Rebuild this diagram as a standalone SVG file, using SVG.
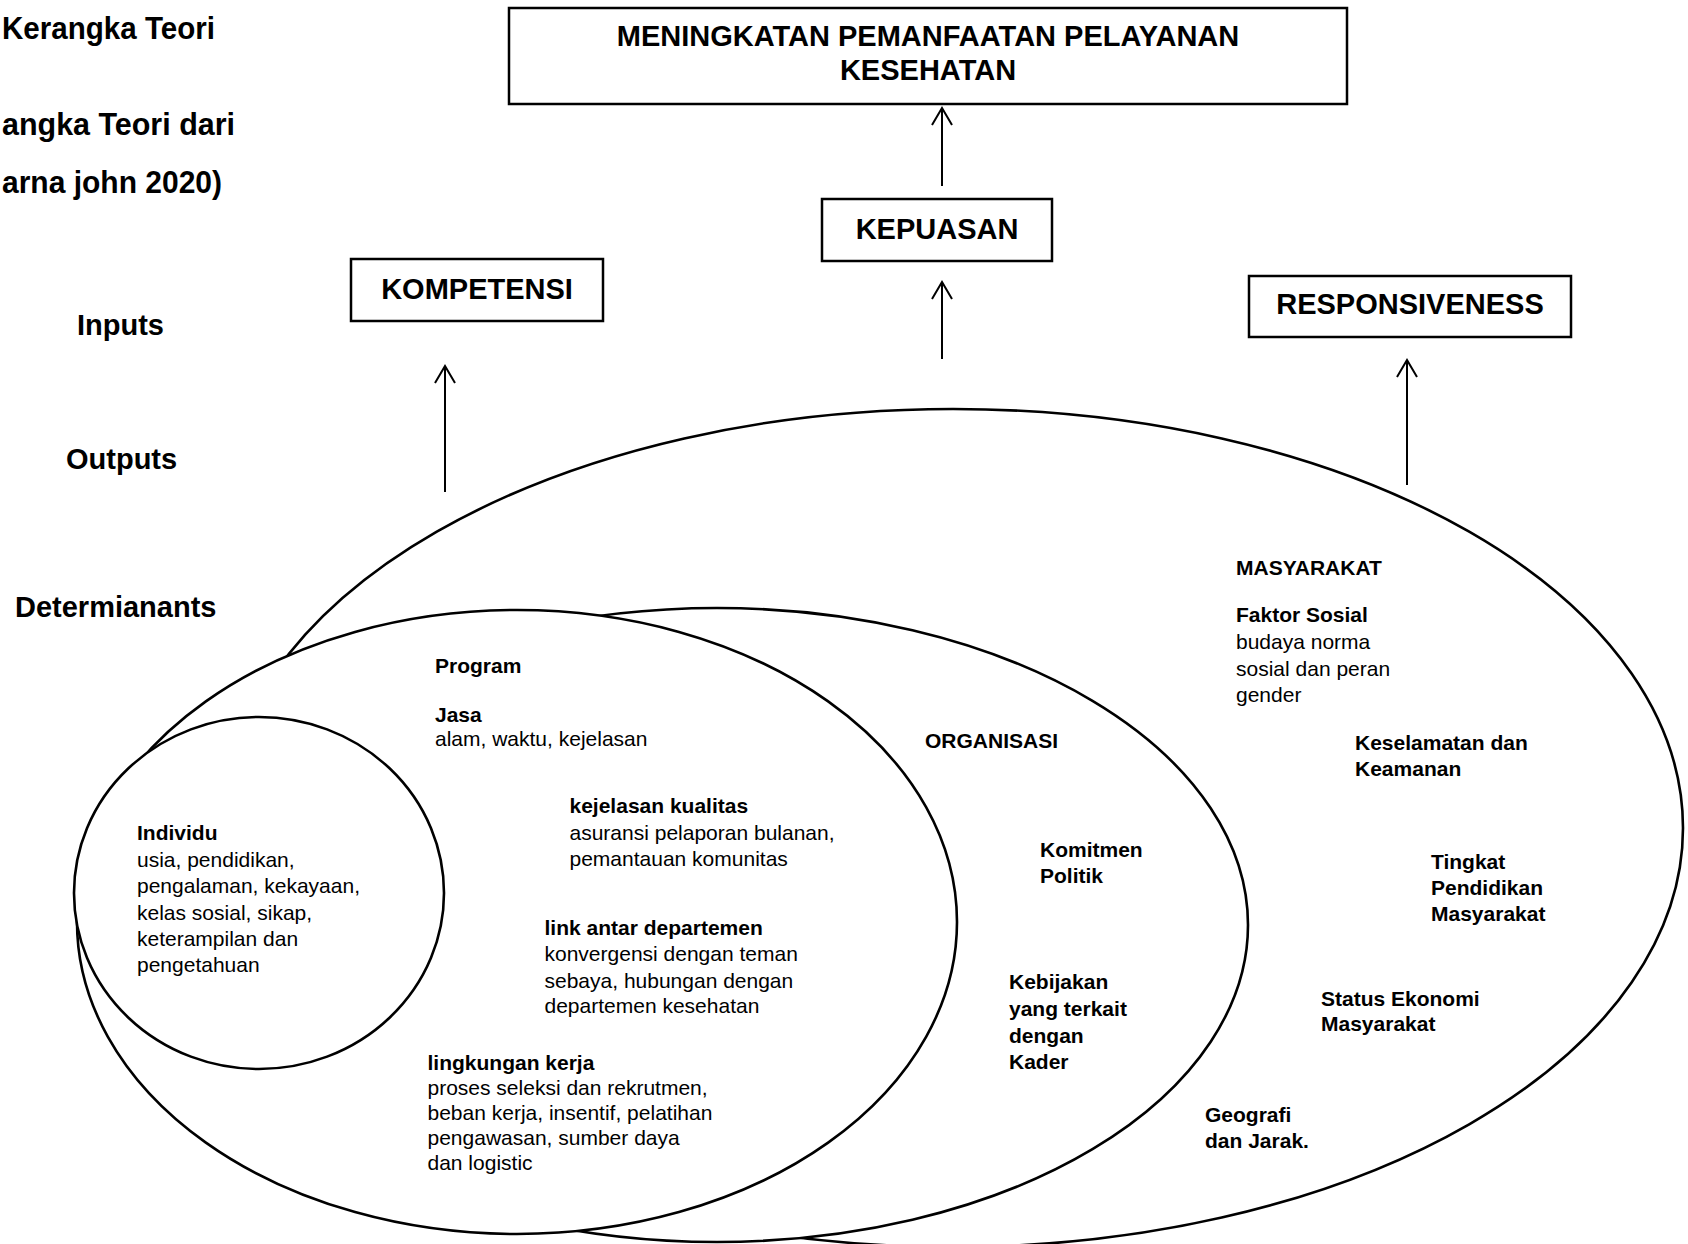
<svg xmlns="http://www.w3.org/2000/svg" width="1688" height="1244" viewBox="0 0 1688 1244">
<style>
text{font-family:"Liberation Sans",Arial,sans-serif;fill:#000}
.t{font-size:32px;font-weight:bold}
.lab{font-size:29px;font-weight:bold}
.bx{font-size:29px;font-weight:bold;text-anchor:middle}
.h{font-size:21px;font-weight:bold}
.n{font-size:21px}
.box{fill:#fff;stroke:#000;stroke-width:2.5}
.ell{fill:#fff;stroke:#000;stroke-width:2.6}
.arr{fill:none;stroke:#000;stroke-width:2;marker-end:url(#ah)}
</style>
<defs>
<marker id="ah" markerUnits="userSpaceOnUse" markerWidth="24" markerHeight="24" refX="0" refY="0" orient="auto" overflow="visible">
<path d="M -17 -10 L 0 0 L -17 10" fill="none" stroke="#000" stroke-width="2"/>
</marker>
</defs>
<rect width="1688" height="1244" fill="#fff"/>

<g id="title">
<text class="t" x="2" y="39" textLength="213" lengthAdjust="spacingAndGlyphs">Kerangka Teori</text>
<text class="t" x="2" y="135" textLength="233" lengthAdjust="spacingAndGlyphs">angka Teori dari</text>
<text class="t" x="2" y="193" textLength="220" lengthAdjust="spacingAndGlyphs">arna john 2020)</text>
</g>

<g id="levels">
<text class="lab" x="77" y="335">Inputs</text>
<text class="lab" x="66" y="469">Outputs</text>
<text class="lab" x="15" y="617">Determianants</text>
</g>

<g id="masyarakat">
<ellipse class="ell" cx="953" cy="828" rx="730" ry="419"/>
</g>
<g id="organisasi">
<ellipse class="ell" cx="717" cy="925" rx="531" ry="317"/>
</g>
<g id="program">
<ellipse class="ell" cx="517" cy="922" rx="440" ry="312"/>
</g>
<g id="individu">
<ellipse class="ell" cx="259" cy="893" rx="185" ry="176"/>
<text class="h" x="137" y="840">Individu</text>
<text class="n" x="137" y="866.5">usia, pendidikan,</text>
<text class="n" x="137" y="893">pengalaman, kekayaan,</text>
<text class="n" x="137" y="919.5">kelas sosial, sikap,</text>
<text class="n" x="137" y="946">keterampilan dan</text>
<text class="n" x="137" y="972">pengetahuan</text>
</g>

<g id="program-text">
<text class="h" x="435" y="673">Program</text>
<text class="h" x="435" y="722">Jasa</text>
<text class="n" x="435" y="746">alam, waktu, kejelasan</text>
<text class="h" x="569.5" y="812.5">kejelasan kualitas</text>
<text class="n" x="569.5" y="839.5">asuransi pelaporan bulanan,</text>
<text class="n" x="569.5" y="866">pemantauan komunitas</text>
<text class="h" x="544.5" y="934.5">link antar departemen</text>
<text class="n" x="544.5" y="961">konvergensi dengan teman</text>
<text class="n" x="544.5" y="987.5">sebaya, hubungan dengan</text>
<text class="n" x="544.5" y="1013">departemen kesehatan</text>
<text class="h" x="427.5" y="1070">lingkungan kerja</text>
<text class="n" x="427.5" y="1095">proses seleksi dan rekrutmen,</text>
<text class="n" x="427.5" y="1120">beban kerja, insentif, pelatihan</text>
<text class="n" x="427.5" y="1144.5">pengawasan, sumber daya</text>
<text class="n" x="427.5" y="1170">dan logistic</text>
</g>

<g id="organisasi-text">
<text class="h" x="925" y="748">ORGANISASI</text>
<text class="h" x="1040" y="856.5">Komitmen</text>
<text class="h" x="1040" y="882.5">Politik</text>
<text class="h" x="1009" y="989">Kebijakan</text>
<text class="h" x="1009" y="1016">yang terkait</text>
<text class="h" x="1009" y="1043">dengan</text>
<text class="h" x="1009" y="1069">Kader</text>
</g>

<g id="masyarakat-text">
<text class="h" x="1236" y="575">MASYARAKAT</text>
<text class="h" x="1236" y="622">Faktor Sosial</text>
<text class="n" x="1236" y="649">budaya norma</text>
<text class="n" x="1236" y="676">sosial dan peran</text>
<text class="n" x="1236" y="701.5">gender</text>
<text class="h" x="1355" y="750">Keselamatan dan</text>
<text class="h" x="1355" y="776">Keamanan</text>
<text class="h" x="1431" y="868.5">Tingkat</text>
<text class="h" x="1431" y="894.5">Pendidikan</text>
<text class="h" x="1431" y="920.5">Masyarakat</text>
<text class="h" x="1321" y="1005.5">Status Ekonomi</text>
<text class="h" x="1321" y="1031">Masyarakat</text>
<text class="h" x="1205" y="1121.5">Geografi</text>
<text class="h" x="1205" y="1148">dan Jarak.</text>
</g>

<g id="box-pemanfaatan">
<rect class="box" x="509" y="8" width="838" height="96"/>
<text class="bx" x="928" y="46">MENINGKATAN PEMANFAATAN PELAYANAN</text>
<text class="bx" x="928" y="80">KESEHATAN</text>
</g>
<g id="box-kepuasan">
<rect class="box" x="822" y="199" width="230" height="62"/>
<text class="bx" x="937" y="239">KEPUASAN</text>
</g>
<g id="box-kompetensi">
<rect class="box" x="351" y="259" width="252" height="62"/>
<text class="bx" x="477" y="298.5">KOMPETENSI</text>
</g>
<g id="box-responsiveness">
<rect class="box" x="1249" y="276" width="322" height="61"/>
<text class="bx" x="1410" y="314">RESPONSIVENESS</text>
</g>

<g id="connectors">
<line class="arr" x1="942" y1="186" x2="942" y2="108"/>
<line class="arr" x1="942" y1="359" x2="942" y2="282"/>
<line class="arr" x1="445" y1="492" x2="445" y2="366"/>
<line class="arr" x1="1407" y1="485" x2="1407" y2="360"/>
</g>
</svg>
